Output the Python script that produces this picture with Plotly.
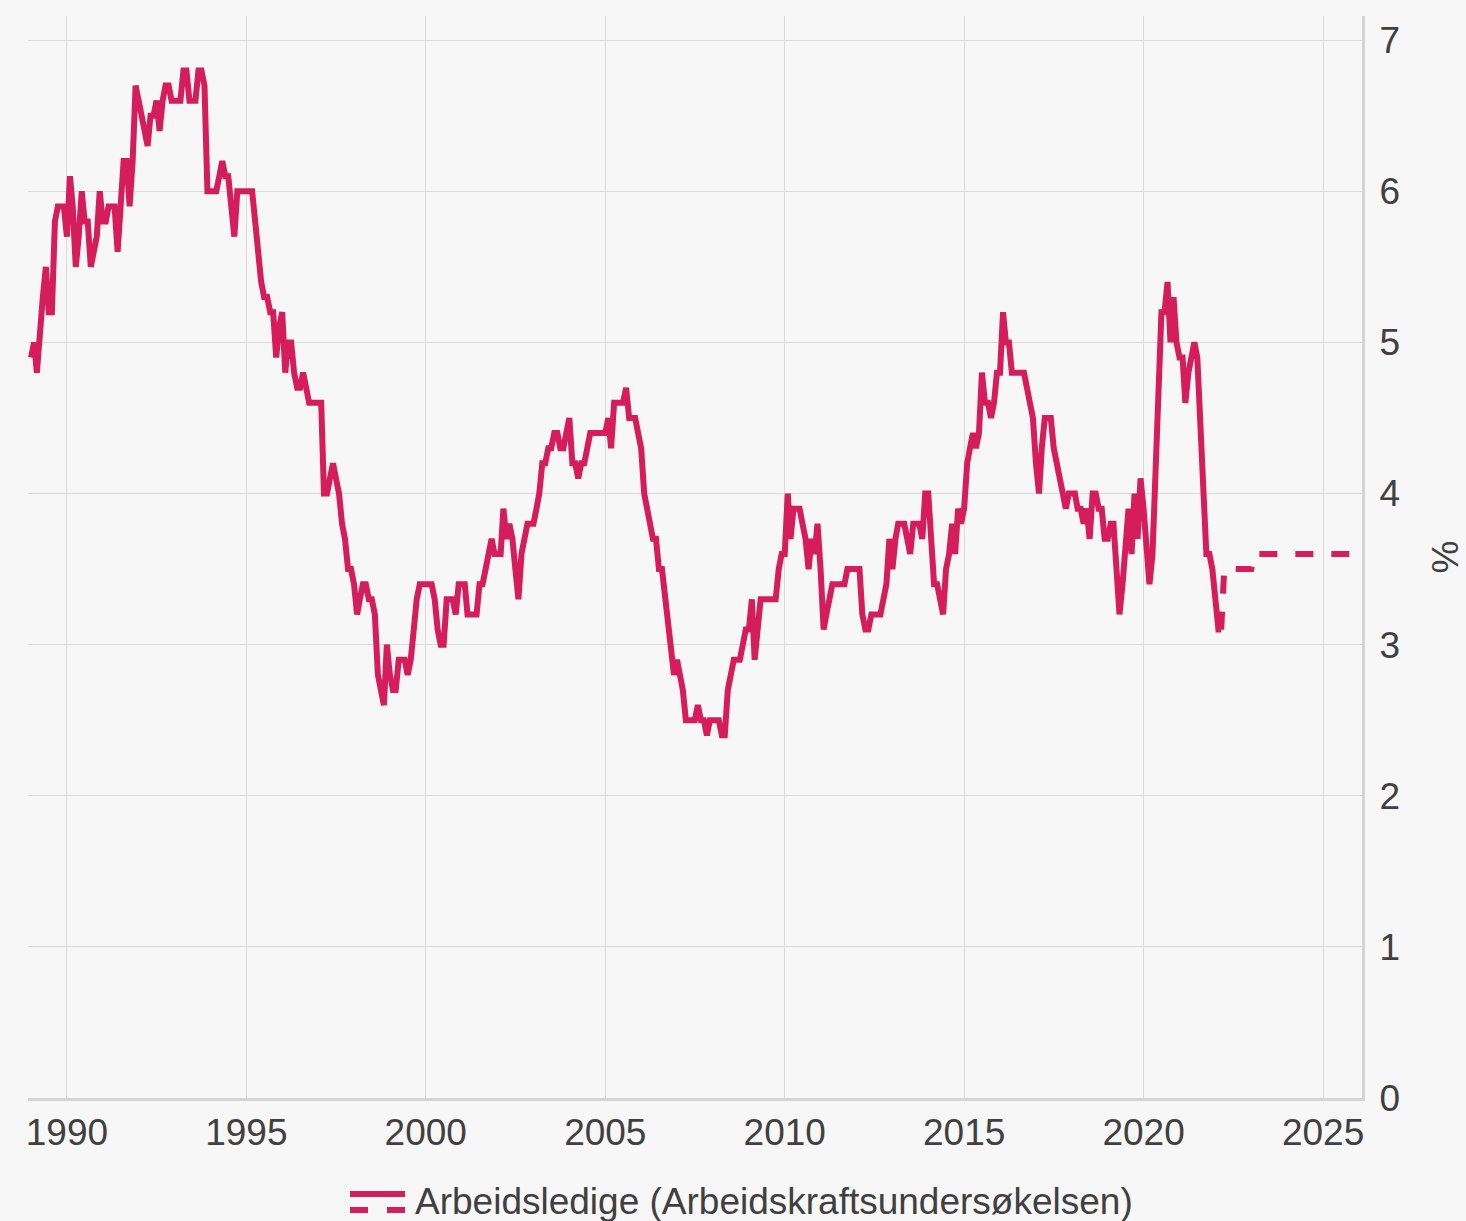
import pandas as pd
import plotly.graph_objects as go

# Arbeidsledige (AKU), prosent, månedlig fra januar 1989
lfs_start = "1989-01-01"
lfs_values = [
    4.9, 5.0, 4.8, 5.1, 5.3, 5.5, 5.2, 5.2, 5.8, 5.9, 5.9, 5.9,   # 1989
    5.7, 6.1, 5.9, 5.5, 5.7, 6.0, 5.8, 5.8, 5.5, 5.6, 5.7, 6.0,   # 1990
    5.8, 5.8, 5.9, 5.9, 5.9, 5.6, 5.9, 6.2, 6.2, 5.9, 6.2, 6.7,   # 1991
    6.6, 6.5, 6.4, 6.3, 6.5, 6.5, 6.6, 6.4, 6.6, 6.7, 6.7, 6.6,   # 1992
    6.6, 6.6, 6.6, 6.8, 6.8, 6.6, 6.6, 6.6, 6.8, 6.8, 6.7, 6.0,   # 1993
    6.0, 6.0, 6.0, 6.1, 6.2, 6.1, 6.1, 5.9, 5.7, 6.0, 6.0, 6.0,   # 1994
    6.0, 6.0, 6.0, 5.8, 5.6, 5.4, 5.3, 5.3, 5.2, 5.2, 4.9, 5.1,   # 1995
    5.2, 4.8, 5.0, 5.0, 4.8, 4.7, 4.7, 4.8, 4.7, 4.6, 4.6, 4.6,   # 1996
    4.6, 4.6, 4.0, 4.0, 4.1, 4.2, 4.1, 4.0, 3.8, 3.7, 3.5, 3.5,   # 1997
    3.4, 3.2, 3.3, 3.4, 3.4, 3.3, 3.3, 3.2, 2.8, 2.7, 2.6, 3.0,   # 1998
    2.8, 2.7, 2.7, 2.9, 2.9, 2.9, 2.8, 2.9, 3.1, 3.3, 3.4, 3.4,   # 1999
    3.4, 3.4, 3.4, 3.3, 3.1, 3.0, 3.0, 3.3, 3.3, 3.3, 3.2, 3.4,   # 2000
    3.4, 3.4, 3.2, 3.2, 3.2, 3.2, 3.4, 3.4, 3.5, 3.6, 3.7, 3.6,   # 2001
    3.6, 3.6, 3.9, 3.7, 3.8, 3.7, 3.5, 3.3, 3.6, 3.7, 3.8, 3.8,   # 2002
    3.8, 3.9, 4.0, 4.2, 4.2, 4.3, 4.3, 4.4, 4.4, 4.3, 4.3, 4.4,   # 2003
    4.5, 4.2, 4.2, 4.1, 4.2, 4.2, 4.3, 4.4, 4.4, 4.4, 4.4, 4.4,   # 2004
    4.4, 4.5, 4.3, 4.6, 4.6, 4.6, 4.6, 4.7, 4.5, 4.5, 4.5, 4.4,   # 2005
    4.3, 4.0, 3.9, 3.8, 3.7, 3.7, 3.5, 3.5, 3.3, 3.1, 2.9, 2.8,   # 2006
    2.9, 2.8, 2.7, 2.5, 2.5, 2.5, 2.5, 2.6, 2.5, 2.5, 2.4, 2.5,   # 2007
    2.5, 2.5, 2.5, 2.4, 2.4, 2.7, 2.8, 2.9, 2.9, 2.9, 3.0, 3.1,   # 2008
    3.1, 3.3, 2.9, 3.1, 3.3, 3.3, 3.3, 3.3, 3.3, 3.3, 3.5, 3.6,   # 2009
    3.6, 4.0, 3.7, 3.9, 3.9, 3.9, 3.8, 3.7, 3.5, 3.7, 3.6, 3.8,   # 2010
    3.5, 3.1, 3.2, 3.3, 3.4, 3.4, 3.4, 3.4, 3.4, 3.5, 3.5, 3.5,   # 2011
    3.5, 3.5, 3.2, 3.1, 3.1, 3.2, 3.2, 3.2, 3.2, 3.3, 3.4, 3.7,   # 2012
    3.5, 3.7, 3.8, 3.8, 3.8, 3.7, 3.6, 3.8, 3.8, 3.8, 3.7, 4.0,   # 2013
    4.0, 3.6, 3.4, 3.4, 3.3, 3.2, 3.5, 3.6, 3.8, 3.6, 3.9, 3.8,   # 2014
    3.9, 4.2, 4.3, 4.4, 4.3, 4.4, 4.8, 4.6, 4.6, 4.5, 4.6, 4.8,   # 2015
    4.8, 5.2, 5.0, 5.0, 4.8, 4.8, 4.8, 4.8, 4.8, 4.7, 4.6, 4.5,   # 2016
    4.2, 4.0, 4.3, 4.5, 4.5, 4.5, 4.3, 4.2, 4.1, 4.0, 3.9, 4.0,   # 2017
    4.0, 4.0, 3.9, 3.9, 3.8, 3.9, 3.7, 4.0, 4.0, 3.9, 3.9, 3.7,   # 2018
    3.7, 3.8, 3.8, 3.5, 3.2, 3.4, 3.6, 3.9, 3.6, 4.0, 3.7, 4.1,   # 2019
    3.9, 3.6, 3.4, 3.6, 4.1, 4.8, 5.2, 5.2, 5.4, 5.0, 5.3, 5.0,   # 2020
    4.9, 4.9, 4.6, 4.8, 4.9, 5.0, 4.9, 4.4, 3.9, 3.6, 3.6, 3.5,   # 2021
    3.3, 3.1, 3.1,                                                # 2022
]

# Anslag (stiplet), månedlig fra mars 2022
proj_start = "2022-03-01"
proj_values = [
    3.1,
    3.5, 3.5, 3.5, 3.5, 3.5, 3.5, 3.5, 3.5, 3.5,   # apr-des 2022
    3.5,                                           # jan 2023
    3.6, 3.6, 3.6, 3.6, 3.6, 3.6, 3.6, 3.6, 3.6, 3.6, 3.6,   # feb-des 2023
    3.6, 3.6, 3.6, 3.6, 3.6, 3.6, 3.6, 3.6, 3.6, 3.6, 3.6, 3.6,   # 2024
    3.6, 3.6, 3.6, 3.6, 3.6, 3.6, 3.6, 3.6, 3.6, 3.6, 3.6, 3.6,   # 2025
    3.6,                                           # jan 2026
]

series_name = "Arbeidsledige (Arbeidskraftsundersøkelsen)"
x_tick_years = [1990, 1995, 2000, 2005, 2010, 2015, 2020, 2025]
y_ticks = [0, 1, 2, 3, 4, 5, 6, 7]

lfs_dates = pd.date_range(lfs_start, periods=len(lfs_values), freq="MS")
proj_dates = pd.date_range(proj_start, periods=len(proj_values), freq="MS")

RED = "#d61d5c"
BG = "#f7f7f7"
GRID = "#dadada"
AXIS = "#d4d4d4"
TXT = "#404040"
FONT = "Liberation Sans, Arial, sans-serif"
FS = 37

fig = go.Figure()
fig.add_trace(go.Scatter(x=lfs_dates, y=lfs_values, mode="lines", name=series_name,
                         line=dict(color=RED, width=6), showlegend=False))
fig.add_trace(go.Scatter(x=proj_dates, y=proj_values, mode="lines", name=series_name + " (anslag)",
                         line=dict(color=RED, width=6, dash="18px,18px"), showlegend=False))

W, H = 1466, 1221
ML, MR, MT, MB = 28, 104, 16, 123
pw, ph = W - ML - MR, H - MT - MB

def px_x(p):
    return (p - ML) / pw

def px_y(p):
    return (H - MB - p) / ph

# manual legend (solid over dashed symbol + label)
fig.add_shape(type="line", xref="paper", yref="paper",
              x0=px_x(350), x1=px_x(405), y0=px_y(1194), y1=px_y(1194),
              line=dict(color=RED, width=6))
fig.add_shape(type="line", xref="paper", yref="paper",
              x0=px_x(350), x1=px_x(405), y0=px_y(1210), y1=px_y(1210),
              line=dict(color=RED, width=6, dash="18px,19px"))
fig.add_annotation(text=series_name, xref="paper", yref="paper",
                   x=px_x(413), y=px_y(1202), xanchor="left", yanchor="middle",
                   showarrow=False, font=dict(family=FONT, size=FS, color=TXT))

fig.update_layout(
    width=W, height=H,
    margin=dict(l=ML, r=MR, t=MT, b=MB, pad=0),
    paper_bgcolor=BG, plot_bgcolor=BG,
    font=dict(family=FONT, size=FS, color=TXT),
    showlegend=False,
)
fig.update_xaxes(
    type="date",
    range=["1988-12-01", "2026-02-01"],
    tickvals=[f"{y}-01-01" for y in x_tick_years],
    ticktext=[str(y) for y in x_tick_years],
    showgrid=True, gridcolor=GRID, gridwidth=1,
    showline=True, linecolor=AXIS, linewidth=3,
    ticks="", zeroline=False, automargin=False,
    tickfont=dict(family=FONT, size=FS, color=TXT),
)
fig.update_yaxes(
    side="right",
    range=[0, 7.16],
    tickvals=y_ticks,
    ticktext=[str(v) for v in y_ticks],
    showgrid=True, gridcolor=GRID, gridwidth=1,
    showline=True, linecolor=AXIS, linewidth=3,
    ticks="outside", ticklen=7, tickcolor="rgba(0,0,0,0)",
    zeroline=False, automargin=False,
    tickfont=dict(family=FONT, size=FS, color=TXT),
    title=dict(text="%", font=dict(family=FONT, size=FS, color=TXT), standoff=39),
)

fig.write_html("out.html", config={"displayModeBar": False},
               post_script="document.body.style.margin='0';")
